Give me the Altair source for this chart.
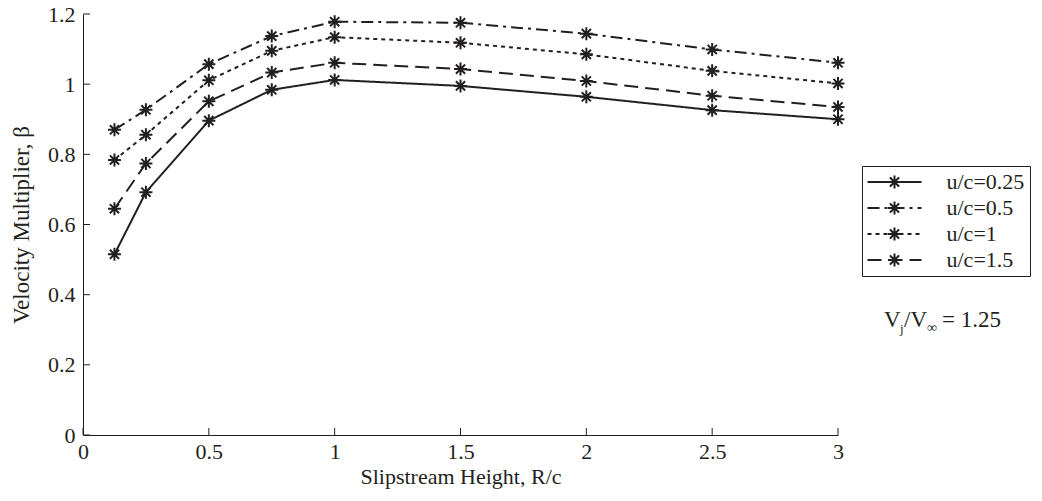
import altair as alt
import pandas as pd

# ---- data ----
x_vals = [0.125, 0.25, 0.5, 0.75, 1, 1.5, 2, 2.5, 3]
series_names = ["u/c=0.25", "u/c=0.5", "u/c=1", "u/c=1.5"]
beta_025 = [0.515, 0.692, 0.896, 0.984, 1.012, 0.995, 0.964, 0.926, 0.900]
beta_05 = [0.870, 0.927, 1.057, 1.137, 1.178, 1.175, 1.144, 1.099, 1.061]
beta_1 = [0.784, 0.856, 1.011, 1.095, 1.134, 1.118, 1.085, 1.038, 1.002]
beta_15 = [0.645, 0.774, 0.951, 1.033, 1.061, 1.043, 1.009, 0.967, 0.935]
x_ticks = [0, 0.5, 1, 1.5, 2, 2.5, 3]
y_ticks = [0, 0.2, 0.4, 0.6, 0.8, 1, 1.2]
dash_styles = [[1, 0], [12, 5, 3, 5], [4, 4], [14, 7]]

rows = []
for name, ys in zip(series_names, [beta_025, beta_05, beta_1, beta_15]):
    for xv, yv in zip(x_vals, ys):
        rows.append({"R": xv, "beta": yv, "series": name})
df = pd.DataFrame(rows)
xt = pd.DataFrame({"R": x_ticks})
yt = pd.DataFrame({"beta": y_ticks})

INK = "#231f20"
FONT = "Liberation Serif"
FS = 22

# asterisk marker
STAR = "M-1,0L1,0M0,-1L0,1M-0.707,-0.707L0.707,0.707M-0.707,0.707L0.707,-0.707"

# legend symbol: line through an asterisk (arms drawn from centre so dashes restart)
def legend_path():
    L = 4.15
    parts = [f"M{-L},0L{L},0"]
    dirs = [(1, 0), (-1, 0), (0, 1), (0, -1), (0.707, 0.707), (-0.707, -0.707), (0.707, -0.707), (-0.707, 0.707)]
    for dx, dy in dirs:
        parts.append(f"M0,0L{dx},{dy}")
        parts.append(f"M{0.6*dx:.3f},{0.6*dy:.3f}L{dx},{dy}")
    return "".join(parts)

xs = alt.Scale(domain=[0, 3], nice=False, zero=False)
ys = alt.Scale(domain=[0, 1.2], nice=False)

x_axis = alt.Axis(values=x_ticks, format="~g", title="Slipstream Height, R/c", grid=False, ticks=False,
                  domainColor=INK, labelColor=INK, titleColor=INK, labelFont=FONT, titleFont=FONT,
                  labelFontSize=FS, titleFontSize=FS, titleFontWeight="normal", labelPadding=6,
                  titlePadding=4, labelFlush=False)
y_axis = alt.Axis(values=y_ticks, format="~g", title="Velocity Multiplier, β", grid=False, ticks=False,
                  domainColor=INK, labelColor=INK, titleColor=INK, labelFont=FONT, titleFont=FONT,
                  labelFontSize=FS, titleFontSize=23, titleFontWeight="normal", labelPadding=8,
                  titlePadding=14, labelFlush=False)

base = alt.Chart(df)

lines = base.mark_line(color=INK, strokeWidth=2).encode(
    x=alt.X("R:Q", scale=xs, axis=x_axis),
    y=alt.Y("beta:Q", scale=ys, axis=y_axis),
    strokeDash=alt.StrokeDash(
        "series:N",
        scale=alt.Scale(domain=series_names, range=dash_styles),
        legend=alt.Legend(orient="none", legendX=779, legendY=152, title=None,
                          symbolType=legend_path(), symbolSize=169, symbolStrokeWidth=2,
                          symbolStrokeColor=INK, symbolFillColor="transparent",
                          symbolOffset=16.5, labelOffset=41, labelFont=FONT, labelFontSize=FS,
                          labelColor=INK, strokeColor=INK, fillColor="white", padding=5,
                          rowPadding=4),
    ),
)

points = base.mark_point(shape=STAR, size=169, strokeWidth=2, color=INK, filled=False, opacity=1).encode(
    x=alt.X("R:Q", scale=xs),
    y=alt.Y("beta:Q", scale=ys),
)

xtick_marks = alt.Chart(xt).mark_rule(color=INK, strokeWidth=1).encode(
    x=alt.X("R:Q", scale=xs), y=alt.datum(0), y2=alt.datum(0.02)
)
ytick_marks = alt.Chart(yt).mark_rule(color=INK, strokeWidth=1).encode(
    y=alt.Y("beta:Q", scale=ys), x=alt.datum(0), x2=alt.datum(0.028)
)

def label(txt, px, py, size):
    return alt.Chart(pd.DataFrame({"t": [txt]})).mark_text(
        font=FONT, fontSize=size, color=INK, align="left", baseline="alphabetic"
    ).encode(text="t:N", x=alt.value(px), y=alt.value(py))

ann = [
    label("V", 801, 313, 23),
    label("j", 817, 319, 13),
    label("/V", 821, 313, 23),
    label("∞", 844, 318, 14),
    label("= 1.25", 859, 313, 23),
]

chart = alt.layer(xtick_marks, ytick_marks, lines, points, *ann).properties(
    width=755, height=421,
    padding={"left": 75, "top": 6, "right": 196, "bottom": 55},
    autosize=alt.AutoSizeParams(type="none"),
).configure_view(stroke=None)

chart.save("out.html", embed_options={"renderer": "svg", "actions": False})
